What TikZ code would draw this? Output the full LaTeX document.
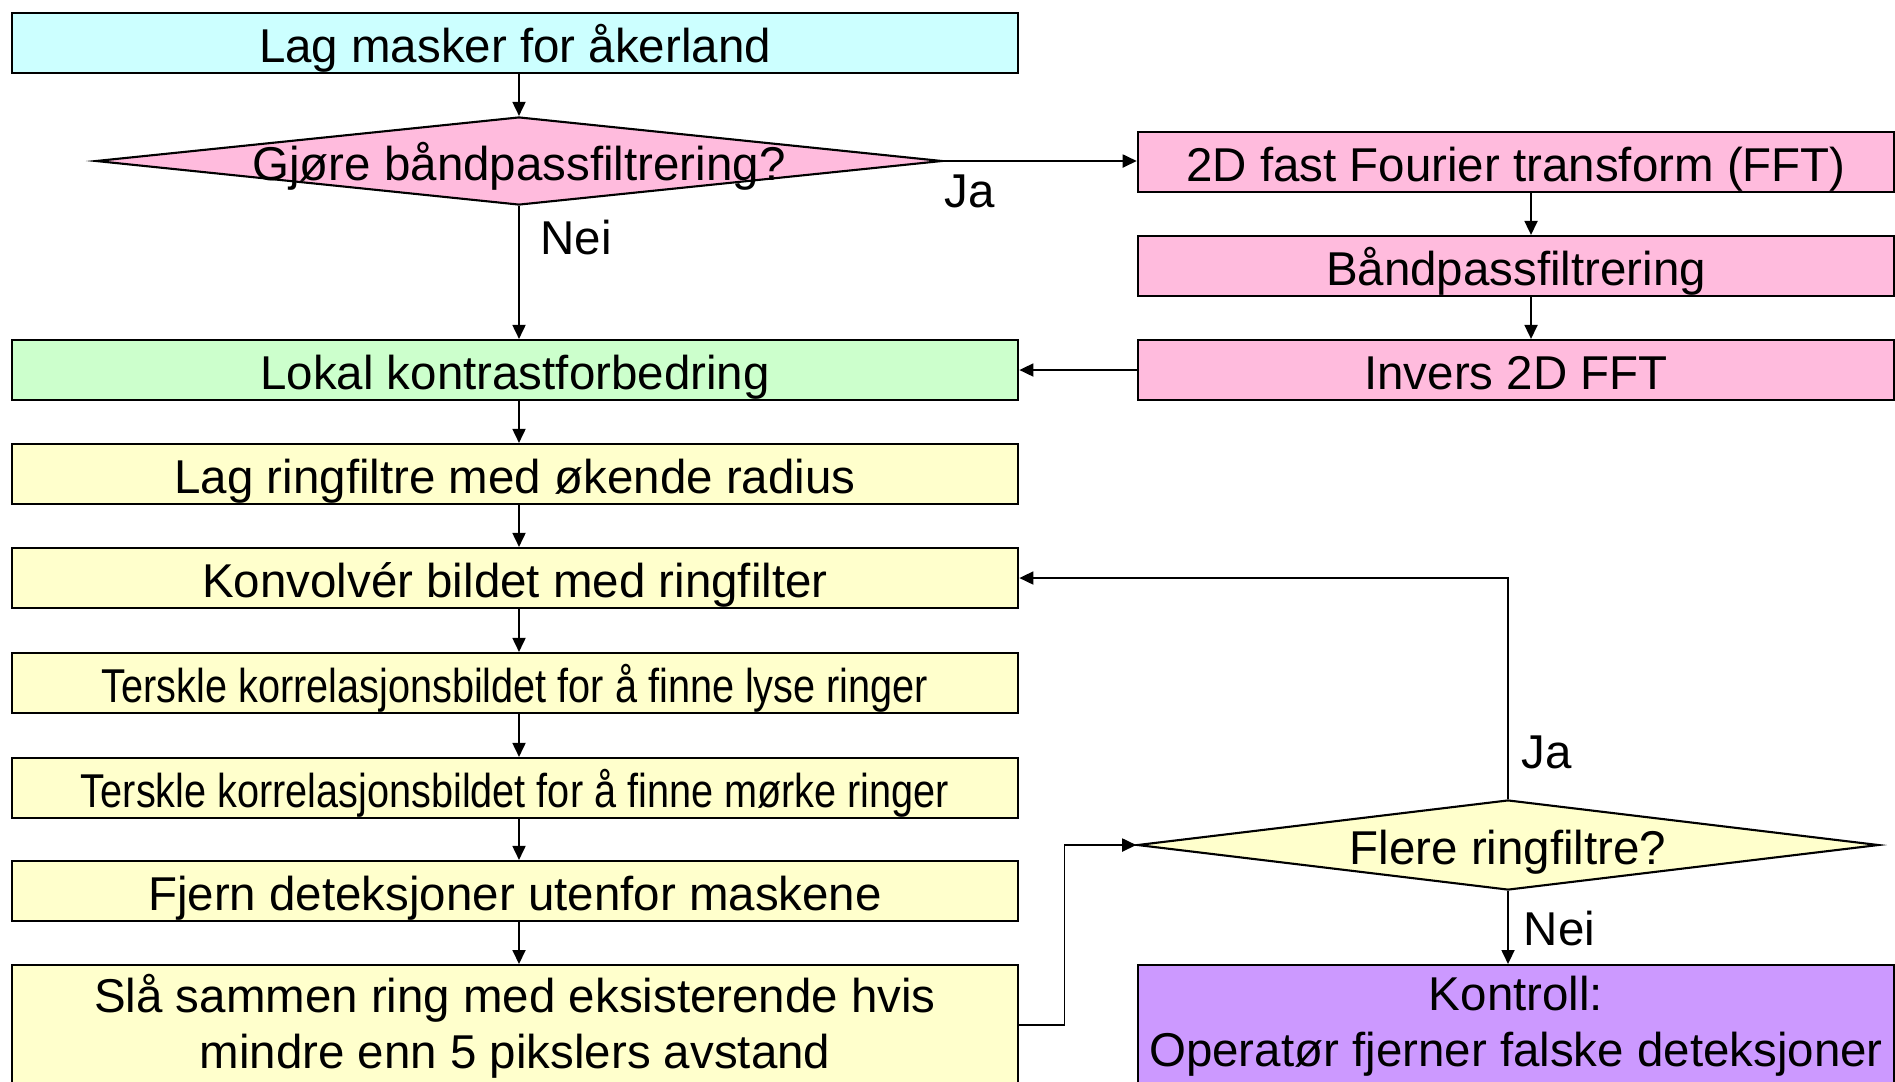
\documentclass[tikz,border=0pt]{standalone}
\usepackage{fontspec}
\setmainfont{Liberation Sans}
\newfontfamily\narrowfont[FakeStretch=0.835]{Liberation Sans}
\usepackage{xcolor}
\usepackage{tikz}
\usetikzlibrary{shapes.geometric,arrows.meta}
\definecolor{maskbg}{HTML}{CCFFFF}
\definecolor{fftbg}{HTML}{FFBBDD}
\definecolor{lokalbg}{HTML}{CCFFCC}
\definecolor{stepbg}{HTML}{FFFFCC}
\definecolor{ctrlbg}{HTML}{CC99FF}
\newcommand{\flowfont}{\fontsize{13.5pt}{15.9pt}\selectfont}

\tikzset{
  box/.style={draw, line width=0.6pt, minimum width=10.06cm, minimum height=0.6cm,
    inner sep=0pt, align=center, font=\flowfont, text height=0.45cm, text depth=0.07cm},
  rbox/.style={box, minimum width=7.56cm},
  tallbox/.style={draw, line width=0.6pt, minimum height=1.22cm, anchor=north,
    inner sep=0pt, align=center, font=\flowfont},
  choice/.style={diamond, draw, line width=0.6pt, inner sep=0pt, aspect=9.6, font=\flowfont,
    text height=0.45cm, text depth=0.07cm},
  flow/.style={-{Triangle[length=0.14cm, width=0.13cm]}, line width=0.5pt},
  answer/.style={anchor=west, inner sep=0pt, font=\flowfont}
}

\begin{document}
\begin{tikzpicture}[x=0.01cm, y=-0.01cm]
  \useasboundingbox (0,0) rectangle (1895,1081);
  \clip (0,0) rectangle (1895,1081);

  % left column
  \node[box, fill=maskbg] (mask) at (515,43) {Lag masker for åkerland};
  \node[choice, fill=fftbg, minimum width=8.46cm, minimum height=0.88cm] (q1) at (519,161)
    {\makebox[0pt]{Gjøre båndpassfiltrering?}};
  \node[box, fill=lokalbg] (lokal) at (515,370) {Lokal kontrastforbedring};
  \node[box, fill=stepbg] (ring) at (515,474) {Lag ringfiltre med økende radius};
  \node[box, fill=stepbg] (konv) at (515,578) {Konvolvér bildet med ringfilter};
  \node[box, fill=stepbg, font=\flowfont\narrowfont] (lyse) at (515,683)
    {Terskle korrelasjonsbildet for å finne lyse ringer};
  \node[box, fill=stepbg, font=\flowfont\narrowfont] (morke) at (515,788)
    {Terskle korrelasjonsbildet for å finne mørke ringer};
  \node[box, fill=stepbg] (fjern) at (515,891) {Fjern deteksjoner utenfor maskene};
  \node[tallbox, fill=stepbg, minimum width=10.06cm] (slaa) at (515,964)
    {Slå sammen ring med eksisterende hvis\\mindre enn 5 pikslers avstand};

  % right column
  \node[rbox, fill=fftbg] (fft) at (1516,162) {2D fast Fourier transform (FFT)};
  \node[rbox, fill=fftbg] (band) at (1516,266) {Båndpassfiltrering};
  \node[rbox, fill=fftbg] (inv) at (1516,370) {Invers 2D FFT};
  \node[choice, fill=stepbg, minimum width=7.41cm, minimum height=0.9cm] (q2) at (1508,845)
    {\makebox[0pt]{Flere ringfiltre?}};
  \node[tallbox, fill=ctrlbg, minimum width=7.56cm] (ctrl) at (1516,964)
    {Kontroll:\\Operatør fjerner falske deteksjoner};

  % answers
  \node[answer] (q1ja) at (944,191) {Ja};
  \node[answer] (q1nei) at (540,238) {Nei};
  \node[answer] (q2ja) at (1521,752) {Ja};
  \node[answer] (q2nei) at (1523,929) {Nei};

  % connections
  \draw[flow] (q1.north |- mask.south) -- (q1.north);
  \draw[flow] (q1.east) -- (q1.east -| fft.west);
  \draw[flow] (q1.south) -- (q1.south |- lokal.north);
  \draw[flow] ([xshift=0.15cm]fft.south) -- ([xshift=0.15cm]band.north);
  \draw[flow] ([xshift=0.15cm]band.south) -- ([xshift=0.15cm]inv.north);
  \draw[flow] (inv.west) -- (lokal.east);
  \draw[flow] (q1.south |- lokal.south) -- (q1.south |- ring.north);
  \draw[flow] (q1.south |- ring.south) -- (q1.south |- konv.north);
  \draw[flow] (q1.south |- konv.south) -- (q1.south |- lyse.north);
  \draw[flow] (q1.south |- lyse.south) -- (q1.south |- morke.north);
  \draw[flow] (q1.south |- morke.south) -- (q1.south |- fjern.north);
  \draw[flow] (q1.south |- fjern.south) -- (q1.south |- slaa.north);
  \draw[flow] ([yshift=0.01cm]slaa.east) -- ++(0.45cm,0) |- (q2.west);
  \draw[flow] (q2.north) |- (konv.east);
  \draw[flow] (q2.south) -- (q2.south |- ctrl.north);
\end{tikzpicture}
\end{document}
